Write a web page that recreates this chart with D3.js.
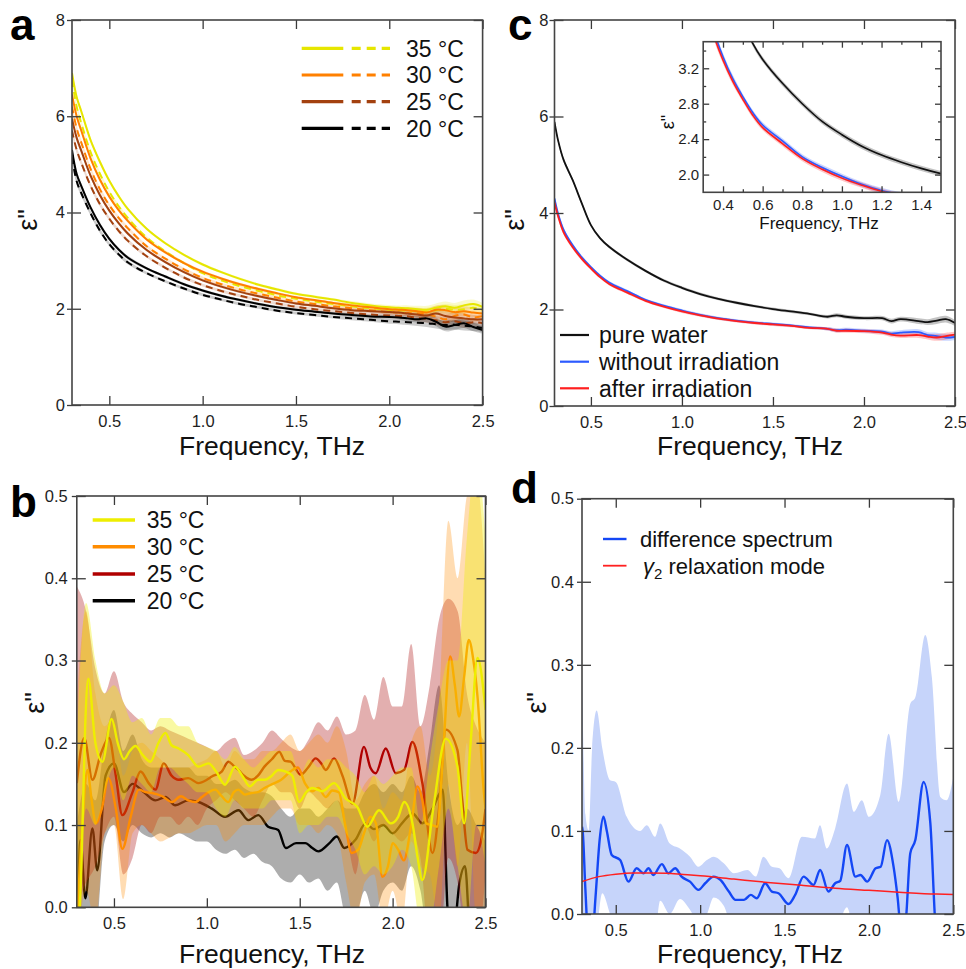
<!DOCTYPE html>
<html>
<head>
<meta charset="utf-8">
<script src="https://cdn.jsdelivr.net/npm/d3@7"></script>
<style>
  body { margin: 0; background: #fff; }
</style>
</head>
<body>
<svg id="fig" width="966" height="969"></svg>
<script>
// ---------- panel a : temperature series, solid / dashed ----------
var freqA = [0.3,0.325,0.35,0.4,0.45,0.5,0.55,0.6,0.7,0.8,0.9,1.0,1.1,1.2,1.3,1.4,1.5,1.6,1.7,1.8,1.9,2.0,2.05,2.1,2.15,2.2,2.25,2.3,2.35,2.4,2.45,2.5];
var eps35solid = [6.9,6.4,6.1,5.5,5.05,4.66,4.34,4.07,3.66,3.36,3.12,2.92,2.76,2.62,2.5,2.4,2.31,2.25,2.19,2.12,2.07,2.03,2.02,2.01,1.99,1.98,2.02,2.05,2.02,2.07,2.1,2.04];
var eps35dash  = [6.75,6.2,5.85,5.25,4.8,4.43,4.13,3.88,3.48,3.19,2.95,2.74,2.59,2.47,2.37,2.28,2.21,2.15,2.1,2.05,2.01,1.98,1.97,1.96,1.95,1.94,1.97,2.0,1.98,1.99,2.02,1.98];
var eps30solid = [6.45,6.0,5.7,5.12,4.68,4.33,4.05,3.82,3.44,3.17,2.95,2.77,2.63,2.51,2.41,2.32,2.24,2.18,2.12,2.07,2.03,1.99,1.98,1.97,1.95,1.92,1.98,1.97,1.93,1.95,1.92,1.9];
var eps30dash  = [6.2,5.75,5.45,4.9,4.48,4.15,3.89,3.67,3.3,3.04,2.82,2.64,2.51,2.4,2.31,2.23,2.15,2.1,2.05,2.01,1.97,1.93,1.92,1.91,1.9,1.88,1.84,1.78,1.85,1.88,1.82,1.85];
var eps25solid = [5.95,5.55,5.28,4.76,4.36,4.04,3.78,3.56,3.22,2.97,2.76,2.59,2.46,2.35,2.26,2.18,2.11,2.06,2.01,1.97,1.95,1.93,1.92,1.9,1.88,1.86,1.9,1.85,1.82,1.8,1.78,1.78];
var eps25dash  = [5.7,5.3,5.03,4.55,4.17,3.87,3.62,3.41,3.09,2.85,2.65,2.49,2.37,2.27,2.18,2.11,2.04,1.99,1.95,1.91,1.88,1.86,1.85,1.84,1.81,1.79,1.76,1.72,1.74,1.7,1.72,1.7];
var eps20solid = [5.3,4.8,4.55,4.1,3.74,3.45,3.23,3.06,2.84,2.67,2.51,2.38,2.27,2.18,2.1,2.03,1.98,1.94,1.9,1.87,1.84,1.83,1.82,1.8,1.78,1.8,1.73,1.63,1.66,1.7,1.62,1.56];
var eps20dash  = [5.15,4.65,4.4,3.98,3.62,3.34,3.13,2.96,2.74,2.57,2.42,2.29,2.19,2.1,2.03,1.96,1.91,1.87,1.83,1.8,1.77,1.74,1.73,1.72,1.71,1.7,1.68,1.66,1.67,1.65,1.63,1.6];
var errA = [0.08,0.07,0.06,0.05,0.05,0.04,0.04,0.04,0.03,0.03,0.03,0.03,0.03,0.03,0.03,0.03,0.03,0.03,0.03,0.04,0.04,0.05,0.05,0.06,0.07,0.08,0.09,0.1,0.1,0.1,0.09,0.08];
var tempLabels = ["35 °C", "30 °C", "25 °C", "20 °C"];

// ---------- panel b : difference spectra per temperature ----------
var freq35B = [0.305,0.325,0.345,0.362,0.4,0.4375,0.4875,0.52,0.554,0.585,0.616,0.655,0.696,0.74,0.777,0.81,0.848,0.9,0.955,1.009,1.05,1.098,1.152,1.19,1.232,1.275,1.3125,1.35,1.384,1.425,1.46,1.496,1.535,1.568,1.622,1.685,1.748,1.81,1.864,1.927,1.99,2.03,2.062,2.107,2.135,2.16,2.22,2.286,2.349,2.385,2.42,2.457,2.5];
var eps35B  = [-0.05,0.05,0.22,0.278,0.2,0.177,0.229,0.2,0.18,0.19,0.196,0.185,0.177,0.2,0.212,0.197,0.193,0.185,0.171,0.175,0.165,0.149,0.171,0.16,0.147,0.155,0.155,0.16,0.167,0.165,0.16,0.128,0.14,0.145,0.141,0.151,0.132,0.122,0.098,0.118,0.102,0.11,0.128,0.102,0.06,0.033,0.122,0.205,0.171,0.102,0.2,0.303,0.24];
var freq30B = [0.305,0.33,0.357,0.38,0.402,0.435,0.47,0.51,0.545,0.59,0.634,0.67,0.705,0.76,0.8125,0.86,0.9,0.94,0.973,1.01,1.045,1.08,1.116,1.145,1.17,1.205,1.24,1.275,1.31,1.355,1.4,1.45,1.49,1.53,1.568,1.6,1.64,1.675,1.71,1.745,1.78,1.815,1.846,1.88,1.91,1.945,1.975,2.0,2.03,2.06,2.1,2.134,2.16,2.18,2.21,2.24,2.27,2.31,2.335,2.358,2.385,2.41,2.435,2.457,2.49,2.5];
var eps30B  = [0.0,0.1,0.167,0.13,0.102,0.12,0.157,0.12,0.071,0.11,0.143,0.14,0.139,0.135,0.128,0.135,0.13,0.128,0.134,0.14,0.143,0.135,0.128,0.14,0.143,0.137,0.139,0.14,0.145,0.15,0.155,0.165,0.17,0.15,0.141,0.145,0.134,0.142,0.14,0.1,0.066,0.07,0.09,0.11,0.102,0.037,0.05,0.078,0.07,0.057,0.1,0.147,0.13,0.102,0.1,0.098,0.18,0.305,0.27,0.232,0.28,0.325,0.3,0.256,0.143,0.12];
var freq25B = [0.3,0.34,0.384,0.43,0.473,0.51,0.545,0.6,0.643,0.69,0.723,0.768,0.81,0.848,0.9,0.955,1.0,1.027,1.08,1.116,1.145,1.17,1.2,1.24,1.275,1.31,1.35,1.39,1.42,1.45,1.505,1.545,1.586,1.615,1.64,1.685,1.73,1.784,1.846,1.88,1.909,1.963,2.017,2.062,2.107,2.16,2.215,2.25,2.286,2.349,2.375,2.403,2.448,2.475,2.5];
var eps25B  = [0.151,0.206,0.155,0.187,0.206,0.16,0.112,0.14,0.165,0.15,0.143,0.175,0.16,0.155,0.157,0.151,0.155,0.159,0.165,0.177,0.172,0.167,0.16,0.155,0.16,0.171,0.18,0.189,0.178,0.177,0.161,0.17,0.181,0.175,0.167,0.181,0.16,0.126,0.195,0.17,0.163,0.193,0.163,0.167,0.201,0.151,0.066,0.12,0.216,0.191,0.13,0.07,0.066,0.08,0.12];
var freq20B = [0.3,0.32,0.346,0.384,0.41,0.455,0.5,0.554,0.6,0.66,0.723,0.777,0.83,0.9,0.955,1.027,1.098,1.17,1.223,1.277,1.33,1.384,1.425,1.48,1.53,1.568,1.6,1.66,1.7,1.74,1.8,1.855,1.9,1.95,2.0,2.05,2.107,2.16,2.215,2.27,2.295,2.32,2.36,2.39,2.42,2.5];
var eps20B  = [-0.05,0.082,0.011,0.096,0.045,0.16,0.175,0.14,0.15,0.14,0.13,0.134,0.124,0.13,0.128,0.12,0.11,0.118,0.106,0.112,0.098,0.094,0.072,0.078,0.078,0.072,0.068,0.078,0.086,0.072,0.082,0.102,0.095,0.1,0.09,0.102,0.114,0.102,0.12,0.143,0.0,-0.05,0.03,0.05,-0.05,-0.1];

var bandFreqB = [0.3,0.35,0.4,0.45,0.5,0.55,0.6,0.65,0.7,0.75,0.8,0.85,0.9,0.95,1.0,1.05,1.1,1.15,1.2,1.25,1.3,1.35,1.4,1.45,1.5,1.55,1.6,1.65,1.7,1.75,1.8,1.85,1.9,1.95,2.0,2.05,2.1,2.15,2.2,2.25,2.3,2.35,2.4,2.45,2.5];
var hi35B = [0.2,0.37,0.3,0.26,0.27,0.25,0.225,0.23,0.21,0.23,0.23,0.22,0.22,0.2,0.195,0.19,0.18,0.195,0.18,0.17,0.18,0.19,0.19,0.19,0.16,0.18,0.17,0.18,0.18,0.17,0.16,0.14,0.16,0.15,0.16,0.17,0.17,0.1,0.18,0.25,0.3,0.3,0.45,0.55,0.45];
var lo35B = [-0.1,0.12,0.1,0.14,0.17,0.13,0.16,0.15,0.14,0.17,0.17,0.16,0.15,0.14,0.14,0.12,0.11,0.13,0.12,0.12,0.12,0.13,0.13,0.13,0.09,0.1,0.1,0.11,0.11,0.09,0.07,0.04,0.05,0.04,0.05,0.07,0.05,-0.02,-0.02,0.05,0.12,0.05,-0.02,0.1,0.05];
var hi30B = [0.25,0.36,0.26,0.22,0.23,0.16,0.19,0.2,0.19,0.18,0.17,0.17,0.17,0.175,0.18,0.19,0.17,0.19,0.18,0.18,0.19,0.19,0.2,0.21,0.19,0.2,0.21,0.2,0.22,0.19,0.13,0.15,0.16,0.12,0.14,0.13,0.2,0.22,0.16,0.25,0.47,0.4,0.5,0.52,0.4];
var lo30B = [-0.05,0.02,-0.02,0.09,0.1,0.01,0.09,0.1,0.09,0.08,0.085,0.09,0.09,0.095,0.1,0.1,0.08,0.09,0.1,0.1,0.1,0.11,0.12,0.12,0.1,0.1,0.09,0.1,0.09,0.03,-0.02,0.03,0.04,-0.02,0.02,-0.02,0.08,0.05,0.04,-0.02,0.15,0.05,0.2,-0.02,-0.05];
var hi25B = [0.39,0.36,0.29,0.26,0.287,0.25,0.235,0.225,0.215,0.22,0.215,0.21,0.205,0.2,0.195,0.19,0.2,0.206,0.185,0.19,0.2,0.215,0.205,0.195,0.19,0.205,0.225,0.215,0.232,0.21,0.215,0.258,0.228,0.28,0.244,0.244,0.32,0.22,0.27,0.35,0.375,0.36,0.26,0.22,0.2];
var lo25B = [0.0,0.03,0.05,0.09,0.11,0.04,0.06,0.1,0.09,0.11,0.11,0.1,0.11,0.1,0.12,0.13,0.14,0.13,0.12,0.11,0.13,0.15,0.14,0.14,0.12,0.14,0.13,0.12,0.13,0.09,0.04,0.1,0.08,0.1,0.09,0.08,0.09,0.06,-0.05,-0.05,0.06,0.03,-0.05,-0.05,0.04];
var hi20B = [0.1,0.15,0.13,0.2,0.24,0.19,0.21,0.18,0.17,0.17,0.17,0.17,0.17,0.16,0.16,0.15,0.15,0.155,0.145,0.14,0.14,0.135,0.12,0.11,0.12,0.12,0.11,0.12,0.13,0.12,0.12,0.14,0.15,0.14,0.15,0.14,0.16,0.14,0.2,0.27,0.15,0.1,0.12,0.1,0.08];
var lo20B = [-0.1,-0.1,-0.05,0.08,0.1,0.08,0.1,0.09,0.085,0.09,0.085,0.09,0.085,0.08,0.08,0.07,0.065,0.07,0.06,0.065,0.055,0.05,0.035,0.03,0.04,0.03,0.035,0.02,0.03,-0.01,-0.01,0.02,-0.01,0.02,0.03,0.02,0.05,0.02,-0.05,-0.05,-0.05,-0.05,-0.05,-0.05,-0.05];

// ---------- panel c : water vs sample ----------
var freqC = [0.3,0.32,0.35,0.4,0.45,0.5,0.55,0.6,0.7,0.8,0.9,1.0,1.1,1.2,1.3,1.4,1.5,1.6,1.7,1.8,1.85,1.9,2.0,2.1,2.15,2.2,2.3,2.35,2.4,2.45,2.5];
var waterC   = [5.89,5.5,5.1,4.68,4.2,3.75,3.48,3.3,3.03,2.8,2.6,2.45,2.32,2.22,2.14,2.07,2.01,1.96,1.91,1.85,1.88,1.85,1.82,1.82,1.76,1.8,1.76,1.74,1.77,1.8,1.72];
var withoutC = [4.3,3.98,3.65,3.33,3.08,2.88,2.7,2.56,2.38,2.2,2.08,1.98,1.89,1.82,1.77,1.73,1.7,1.67,1.63,1.6,1.57,1.58,1.56,1.54,1.5,1.52,1.53,1.47,1.45,1.42,1.43];
var afterC   = [4.22,3.93,3.6,3.29,3.05,2.85,2.67,2.53,2.35,2.18,2.06,1.96,1.88,1.81,1.76,1.72,1.69,1.66,1.62,1.6,1.56,1.56,1.55,1.52,1.48,1.46,1.47,1.44,1.42,1.45,1.48];
var errC = [0.05,0.05,0.05,0.04,0.04,0.03,0.03,0.03,0.03,0.03,0.03,0.03,0.03,0.03,0.03,0.03,0.03,0.03,0.03,0.035,0.04,0.04,0.04,0.045,0.05,0.05,0.06,0.06,0.07,0.07,0.06];
var labelsC = ["pure water", "without irradiation", "after irradiation"];

// ---------- panel d : difference spectrum and gamma2 mode ----------
var freqDiff = [0.3,0.304,0.32,0.338,0.36,0.38,0.405,0.427,0.447,0.476,0.526,0.575,0.624,0.664,0.694,0.723,0.773,0.812,0.852,0.89,0.94,0.99,1.03,1.08,1.12,1.17,1.21,1.26,1.3,1.336,1.385,1.425,1.464,1.524,1.563,1.613,1.672,1.711,1.76,1.8,1.83,1.87,1.92,1.95,1.99,2.04,2.07,2.107,2.146,2.17,2.186,2.215,2.245,2.275,2.324,2.364,2.393,2.42,2.5];
var epsDiff  = [0.105,0.1,0.03,-0.03,-0.03,0.02,0.09,0.117,0.1,0.071,0.065,0.039,0.055,0.049,0.055,0.047,0.06,0.049,0.055,0.045,0.039,0.029,0.037,0.045,0.041,0.027,0.017,0.017,0.023,0.019,0.037,0.027,0.025,0.012,0.023,0.045,0.035,0.053,0.027,0.037,0.04,0.083,0.045,0.047,0.039,0.055,0.057,0.089,0.057,0.02,-0.01,-0.01,0.073,0.089,0.159,0.109,-0.01,-0.05,-0.08];
var bandFreqD = [0.3,0.32,0.34,0.36,0.387,0.42,0.466,0.5,0.565,0.644,0.684,0.733,0.763,0.82,0.88,0.94,0.99,1.04,1.08,1.14,1.2,1.28,1.33,1.375,1.425,1.47,1.524,1.603,1.68,1.71,1.75,1.8,1.87,1.91,1.958,2.0,2.067,2.117,2.176,2.245,2.275,2.334,2.373,2.423,2.46,2.5];
var hiDiff = [0.3,0.12,0.1,0.2,0.245,0.2,0.161,0.159,0.117,0.1,0.107,0.093,0.109,0.085,0.079,0.069,0.057,0.065,0.069,0.061,0.049,0.053,0.045,0.069,0.057,0.055,0.043,0.093,0.091,0.107,0.079,0.103,0.157,0.123,0.137,0.117,0.143,0.217,0.135,0.253,0.261,0.336,0.285,0.141,0.137,0.165];
var loDiff = [-0.1,-0.1,-0.1,-0.05,-0.02,0.025,0.0,-0.02,-0.03,-0.01,0.0,-0.02,0.016,0.0,0.018,0.005,-0.01,0.0,0.02,0.01,-0.02,-0.02,-0.01,0.0,-0.01,-0.01,-0.03,-0.01,-0.02,0.0,-0.02,-0.02,0.008,-0.02,-0.03,-0.03,-0.03,-0.03,-0.05,-0.05,-0.05,-0.05,-0.1,-0.1,-0.1,-0.1];
var freqG2 = [0.3,0.4,0.5,0.6,0.7,0.8,0.9,1.0,1.2,1.4,1.6,1.8,2.0,2.2,2.4,2.5];
var epsG2  = [0.039,0.045,0.048,0.0495,0.0495,0.049,0.0475,0.046,0.042,0.038,0.0345,0.031,0.0285,0.026,0.024,0.0235];

// ---------- ticks ----------
var xTicks = [0.5, 1.0, 1.5, 2.0, 2.5];
var yTicksBig = [0, 2, 4, 6, 8];
var yTicksSmall = [0, 0.1, 0.2, 0.3, 0.4, 0.5];
var insetXTicks = [0.4, 0.6, 0.8, 1.0, 1.2, 1.4];
var insetXMinor = [0.5, 0.7, 0.9, 1.1, 1.3];
var insetYTicks = [2.0, 2.4, 2.8, 3.2];
var insetYMinor = [2.2, 2.6, 3.0, 3.4];

var svg = d3.select("#fig");
var font = "'Liberation Sans', Arial, Helvetica, sans-serif";

function zip(f, v) { return f.map(function(d, i) { return [d, v[i]]; }); }
function zipBand(f, lo, hi) { return f.map(function(d, i) { return [d, lo[i], hi[i]]; }); }
function errBand(f, v, e) { return f.map(function(d, i) { return [d, v[i] - e[i], v[i] + e[i]]; }); }

function makePanel(o) {
  var p = { o: o };
  var curve = o.smooth ? d3.curveCatmullRom.alpha(0.5) : d3.curveMonotoneX;
  p.x = d3.scaleLinear().domain(o.xDomain).range([o.left, o.right]);
  p.y = d3.scaleLinear().domain(o.yDomain).range([o.bottom, o.top]);
  svg.append("clipPath").attr("id", "clip-" + o.name).append("rect")
    .attr("x", o.left).attr("y", o.top)
    .attr("width", o.right - o.left).attr("height", o.bottom - o.top);
  p.g = svg.append("g");
  if (o.fill) {
    p.g.append("rect").attr("x", o.left).attr("y", o.top)
      .attr("width", o.right - o.left).attr("height", o.bottom - o.top).attr("fill", o.fill);
  }
  p.plot = p.g.append("g").attr("clip-path", "url(#clip-" + o.name + ")");
  p.line = d3.line().x(function(d) { return p.x(d[0]); }).y(function(d) { return p.y(d[1]); })
    .curve(curve);
  p.area = d3.area().x(function(d) { return p.x(d[0]); })
    .y0(function(d) { return p.y(d[1]); }).y1(function(d) { return p.y(d[2]); })
    .curve(curve);
  return p;
}

function styleAxis(a, fs) {
  a.attr("font-family", font).attr("font-size", fs);
  a.select(".domain").remove();
  a.selectAll(".tick line").attr("stroke", "#3a3a3a").attr("stroke-width", 1.3);
  a.selectAll(".tick text").attr("fill", "#1e1e1e");
}

function drawAxes(p) {
  var o = p.o, g = p.g, t = o.tick;
  var ab = g.append("g").attr("transform", "translate(0," + o.bottom + ")")
    .call(d3.axisBottom(p.x).tickValues(o.xTicks).tickFormat(d3.format(o.xFormat))
      .tickSize(-t).tickPadding(o.xPad));
  styleAxis(ab, o.fontSize);
  var al = g.append("g").attr("transform", "translate(" + o.left + ",0)")
    .call(d3.axisLeft(p.y).tickValues(o.yTicks).tickFormat(d3.format(o.yFormat))
      .tickSize(-t).tickPadding(o.yPad));
  styleAxis(al, o.fontSize);
  al.selectAll(".tick line").attr("x1", -o.out);
  var at = g.append("g").attr("transform", "translate(0," + o.top + ")")
    .call(d3.axisTop(p.x).tickValues(o.xTicks).tickFormat("").tickSize(-t));
  styleAxis(at, o.fontSize);
  var ar = g.append("g").attr("transform", "translate(" + o.right + ",0)")
    .call(d3.axisRight(p.y).tickValues(o.yTicks).tickFormat("").tickSize(-t));
  styleAxis(ar, o.fontSize);
  if (o.xMinor) {
    [[o.bottom, d3.axisBottom], [o.top, d3.axisTop]].forEach(function(s) {
      var m = g.append("g").attr("transform", "translate(0," + s[0] + ")")
        .call(s[1](p.x).tickValues(o.xMinor).tickFormat("").tickSize(-t / 2));
      styleAxis(m, o.fontSize);
    });
    [[o.left, d3.axisLeft], [o.right, d3.axisRight]].forEach(function(s) {
      var m = g.append("g").attr("transform", "translate(" + s[0] + ",0)")
        .call(s[1](p.y).tickValues(o.yMinor).tickFormat("").tickSize(-t / 2));
      styleAxis(m, o.fontSize);
    });
  }
  g.append("rect").attr("x", o.left).attr("y", o.top)
    .attr("width", o.right - o.left).attr("height", o.bottom - o.top)
    .attr("fill", "none").attr("stroke", "#444").attr("stroke-width", 1.6);
  // axis titles
  g.append("text").attr("x", o.titleX).attr("y", o.titleY)
    .attr("text-anchor", "middle").attr("font-family", font)
    .attr("font-size", o.titleSize).attr("fill", "#111").text("Frequency, THz");
  g.append("text").attr("transform", "translate(" + o.epsX + "," + o.epsY + ") rotate(-90)")
    .attr("text-anchor", "middle").attr("dy", "0.35em").attr("font-family", font)
    .attr("font-size", o.epsSize).attr("fill", "#111").text("ε\"");
  if (o.letter) {
    svg.append("text").attr("x", o.letterX).attr("y", o.letterY)
      .attr("font-family", font).attr("font-weight", "bold").attr("font-size", 44)
      .attr("fill", "#000").text(o.letter);
  }
}

function common(extra) {
  var o = {
    xDomain: [0.3, 2.5], xTicks: xTicks, xFormat: ".1f",
    fontSize: 16.5, tick: 9, out: 5, xPad: 10, titleSize: 26.5, epsSize: 27
  };
  for (var k in extra) o[k] = extra[k];
  return o;
}

// ================= panel a =================
var pa = makePanel(common({
  name: "a", left: 72, right: 482.6, top: 20, bottom: 405, smooth: true,
  yDomain: [0, 8], yTicks: yTicksBig, yFormat: "d", yPad: 7,
  titleX: 272, titleY: 454.5, epsX: 28, epsY: 220,
  letter: "a", letterX: 10, letterY: 40
}));
var colorsA = ["#e6e600", "#ff8000", "#a3410f", "#000000"];
var seriesA = [
  [eps35solid, eps35dash], [eps30solid, eps30dash],
  [eps25solid, eps25dash], [eps20solid, eps20dash]
];
seriesA.forEach(function(pair, i) {
  pair.forEach(function(vals) {
    pa.plot.append("path").datum(errBand(freqA, vals, errA))
      .attr("d", pa.area).attr("fill", colorsA[i]).attr("fill-opacity", 0.2);
  });
});
seriesA.forEach(function(pair, i) {
  pa.plot.append("path").datum(zip(freqA, pair[1])).attr("d", pa.line)
    .attr("fill", "none").attr("stroke", colorsA[i]).attr("stroke-width", 2)
    .attr("stroke-dasharray", "7,5");
  pa.plot.append("path").datum(zip(freqA, pair[0])).attr("d", pa.line)
    .attr("fill", "none").attr("stroke", colorsA[i]).attr("stroke-width", 2);
});
drawAxes(pa);
var legA = [48.3, 75, 101.7, 128.3];
tempLabels.forEach(function(lab, i) {
  svg.append("line").attr("x1", 301.7).attr("x2", 343.3).attr("y1", legA[i]).attr("y2", legA[i])
    .attr("stroke", colorsA[i]).attr("stroke-width", 3.2);
  svg.append("line").attr("x1", 351.7).attr("x2", 390).attr("y1", legA[i]).attr("y2", legA[i])
    .attr("stroke", colorsA[i]).attr("stroke-width", 3.2).attr("stroke-dasharray", "9,6");
  svg.append("text").attr("x", 406).attr("y", legA[i]).attr("dy", "0.36em")
    .attr("font-family", font).attr("font-size", 23).attr("fill", "#111").text(lab);
});

// ================= panel b =================
var pb = makePanel(common({
  name: "b", left: 76.8, right: 485.5, top: 496, bottom: 907.3,
  yDomain: [0, 0.5], yTicks: yTicksSmall, yFormat: ".1f", yPad: 9,
  titleX: 272, titleY: 963, epsX: 35, epsY: 703,
  letter: "b", letterX: 10, letterY: 517
}));
var seriesB = [
  { f: freq20B, v: eps20B, lo: lo20B, hi: hi20B, line: "#000000", band: "#000000", op: 0.32 },
  { f: freq25B, v: eps25B, lo: lo25B, hi: hi25B, line: "#b00000", band: "#b22222", op: 0.36 },
  { f: freq30B, v: eps30B, lo: lo30B, hi: hi30B, line: "#ff8c00", band: "#ff8c00", op: 0.3 },
  { f: freq35B, v: eps35B, lo: lo35B, hi: hi35B, line: "#eeee00", band: "#eeee00", op: 0.36 }
];
seriesB.forEach(function(s) {
  pb.plot.append("path").datum(zipBand(bandFreqB, s.lo, s.hi)).attr("d", pb.area)
    .attr("fill", s.band).attr("fill-opacity", s.op);
  pb.plot.append("path").datum(zip(s.f, s.v)).attr("d", pb.line)
    .attr("fill", "none").attr("stroke", s.line).attr("stroke-width", 2.4);
});
drawAxes(pb);
var legB = [520, 546.7, 574, 600.7];
var colorsB = ["#eeee00", "#ff8c00", "#b00000", "#000000"];
tempLabels.forEach(function(lab, i) {
  svg.append("line").attr("x1", 92.7).attr("x2", 135).attr("y1", legB[i]).attr("y2", legB[i])
    .attr("stroke", colorsB[i]).attr("stroke-width", 3.4);
  svg.append("text").attr("x", 146.7).attr("y", legB[i]).attr("dy", "0.36em")
    .attr("font-family", font).attr("font-size", 23).attr("fill", "#111").text(lab);
});

// ================= panel c =================
var pc = makePanel(common({
  name: "c", left: 554.5, right: 955, top: 20, bottom: 406, smooth: true,
  yDomain: [0, 8], yTicks: yTicksBig, yFormat: "d", yPad: 6,
  titleX: 750, titleY: 454.5, epsX: 515, epsY: 220,
  letter: "c", letterX: 508, letterY: 40
}));
var seriesC = [
  { v: waterC, color: "#111111" },
  { v: withoutC, color: "#2d5bff" },
  { v: afterC, color: "#ff1f1f" }
];
function drawC(p, w) {
  seriesC.forEach(function(s) {
    p.plot.append("path").datum(errBand(freqC, s.v, errC)).attr("d", p.area)
      .attr("fill", s.color).attr("fill-opacity", 0.25);
  });
  seriesC.forEach(function(s) {
    p.plot.append("path").datum(zip(freqC, s.v)).attr("d", p.line)
      .attr("fill", "none").attr("stroke", s.color).attr("stroke-width", w);
  });
}
drawC(pc, 1.8);
drawAxes(pc);
var legC = [335, 361.7, 388.3];
labelsC.forEach(function(lab, i) {
  svg.append("line").attr("x1", 560).attr("x2", 589).attr("y1", legC[i]).attr("y2", legC[i])
    .attr("stroke", seriesC[i].color).attr("stroke-width", 2.2);
  svg.append("text").attr("x", 599).attr("y", legC[i]).attr("dy", "0.36em")
    .attr("font-family", font).attr("font-size", 23).attr("fill", "#111").text(lab);
});

// inset of panel c
var pi = makePanel({
  name: "inset", left: 703.2, right: 941, top: 41.7, bottom: 192.3, fill: "#fff", smooth: true,
  xDomain: [0.3, 1.5], yDomain: [1.8, 3.5],
  xTicks: insetXTicks, xMinor: insetXMinor, yTicks: insetYTicks, yMinor: insetYMinor,
  xFormat: ".1f", yFormat: ".1f", fontSize: 15, tick: 6, out: 0, xPad: 7, yPad: 4,
  titleX: 819, titleY: 229, titleSize: 17, epsX: 668, epsY: 122, epsSize: 18
});
drawC(pi, 1.6);
drawAxes(pi);

// ================= panel d =================
var pd = makePanel(common({
  name: "d", left: 582, right: 953.3, top: 498.7, bottom: 914,
  yDomain: [0, 0.5], yTicks: yTicksSmall, yFormat: ".1f", yPad: 8,
  titleX: 750, titleY: 963, epsX: 537, epsY: 703,
  letter: "d", letterX: 511, letterY: 503
}));
pd.plot.append("path").datum(zipBand(bandFreqD, loDiff, hiDiff)).attr("d", pd.area)
  .attr("fill", "#c6d4fa");
pd.plot.append("path").datum(zip(freqDiff, epsDiff)).attr("d", pd.line)
  .attr("fill", "none").attr("stroke", "#1447f5").attr("stroke-width", 2.4);
pd.plot.append("path").datum(zip(freqG2, epsG2)).attr("d", pd.line)
  .attr("fill", "none").attr("stroke", "#ff2020").attr("stroke-width", 1.5);
drawAxes(pd);
svg.append("line").attr("x1", 603).attr("x2", 626.5).attr("y1", 539).attr("y2", 539)
  .attr("stroke", "#1447f5").attr("stroke-width", 2.4);
svg.append("text").attr("x", 640).attr("y", 539).attr("dy", "0.36em")
  .attr("font-family", font).attr("font-size", 22).attr("fill", "#111").text("difference spectrum");
svg.append("line").attr("x1", 603).attr("x2", 626.5).attr("y1", 565.7).attr("y2", 565.7)
  .attr("stroke", "#ff2020").attr("stroke-width", 1.8);
var g2 = svg.append("text").attr("x", 643).attr("y", 565.7).attr("dy", "0.36em")
  .attr("font-family", font).attr("font-size", 22).attr("fill", "#111");
g2.append("tspan").attr("font-style", "italic").text("γ");
g2.append("tspan").attr("font-size", 15).attr("dy", 5).text("2");
g2.append("tspan").attr("dy", -5).text(" relaxation mode");
</script>
</body>
</html>
